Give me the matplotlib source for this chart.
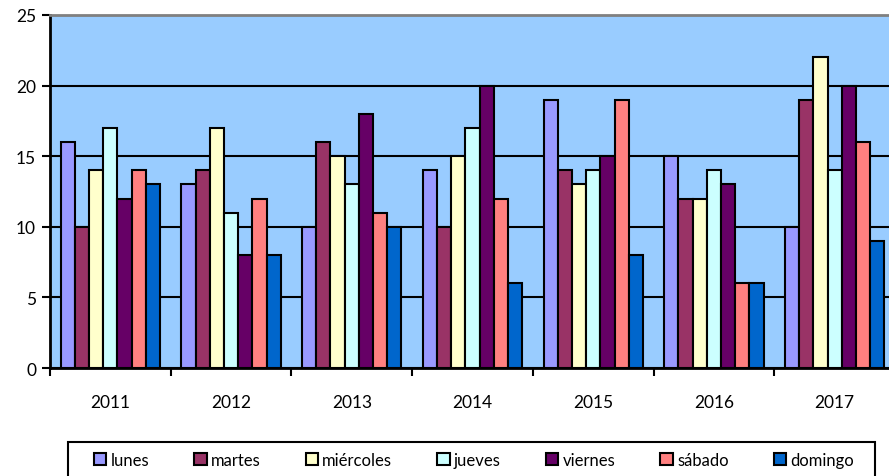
import numpy as np
import matplotlib
matplotlib.use("Agg")
from matplotlib import pyplot as plt
from matplotlib.patches import Patch, Rectangle

years = ["2011", "2012", "2013", "2014", "2015", "2016", "2017"]
days = ["lunes", "martes", "miércoles", "jueves", "viernes", "sábado", "domingo"]
lunes = [16, 13, 10, 14, 19, 15, 10]
martes = [10, 14, 16, 10, 14, 12, 19]
miercoles = [14, 17, 15, 15, 13, 12, 22]
jueves = [17, 11, 13, 17, 14, 14, 14]
viernes = [12, 8, 18, 20, 15, 13, 20]
sabado = [14, 12, 11, 12, 19, 6, 16]
domingo = [13, 8, 10, 6, 8, 6, 9]
series = [lunes, martes, miercoles, jueves, viernes, sabado, domingo]
colors = ["#9999FF", "#993366", "#FFFFCC", "#CCFFFF", "#660066", "#FF8080", "#0066CC"]

plt.rcParams["font.family"] = ["Lato", "DejaVu Sans"]

fig = plt.figure(figsize=(8.89, 4.77), dpi=100)
W, H = 889, 477
left, right, top, bottom = 50, 895, 16, 369
ax = fig.add_axes([left / W, 1 - bottom / H, (right - left) / W, (bottom - top) / H])
ax.set_facecolor("#99CCFF")

x = np.arange(len(years))
w = 1 / 8.5
for i, (vals, c, name) in enumerate(zip(series, colors, days)):
    ax.bar(x + (i - 3) * w, vals, w, color=c, edgecolor="black", linewidth=1.5,
           label=name, zorder=3)

ax.set_xlim(-0.5, len(years) - 0.5)
ax.set_ylim(0, 25)
ax.set_yticks(range(0, 26, 5))
ax.yaxis.grid(True, color="black", linewidth=1.5, zorder=1)
ax.set_axisbelow(True)
ax.set_xticks(x)
ax.set_xticklabels(years)
ax.set_xticks(np.arange(-0.5, len(years), 1), minor=True)
ax.tick_params(axis="x", which="major", length=0, pad=19, labelsize=12.5)
ax.tick_params(axis="x", which="minor", length=6, width=1.5, direction="out")
ax.tick_params(axis="y", length=6, width=1.5, direction="out", labelsize=12.5, pad=4)
ax.spines["top"].set_color("#808080")
ax.spines["top"].set_linewidth(2)
ax.spines["right"].set_visible(False)
ax.spines["left"].set_linewidth(2)
ax.spines["bottom"].set_linewidth(2)

# legend frame runs off the bottom of the figure
fig.patches.append(Rectangle((68 / W, -0.05), (875 - 68) / W, 0.05 + 1 - 443 / H,
                             transform=fig.transFigure, facecolor="white",
                             edgecolor="black", linewidth=1.5))
handles = [Patch(facecolor=c, edgecolor="black", linewidth=1.5) for c in colors]
fig.legend(handles, days, loc="center", ncol=7,
           bbox_to_anchor=(474 / W, 1 - 461 / H), frameon=False, fontsize=12,
           handlelength=0.75, handleheight=0.75, handletextpad=0.25,
           columnspacing=2.7, borderpad=0)

fig.savefig("out.png", dpi=100)
